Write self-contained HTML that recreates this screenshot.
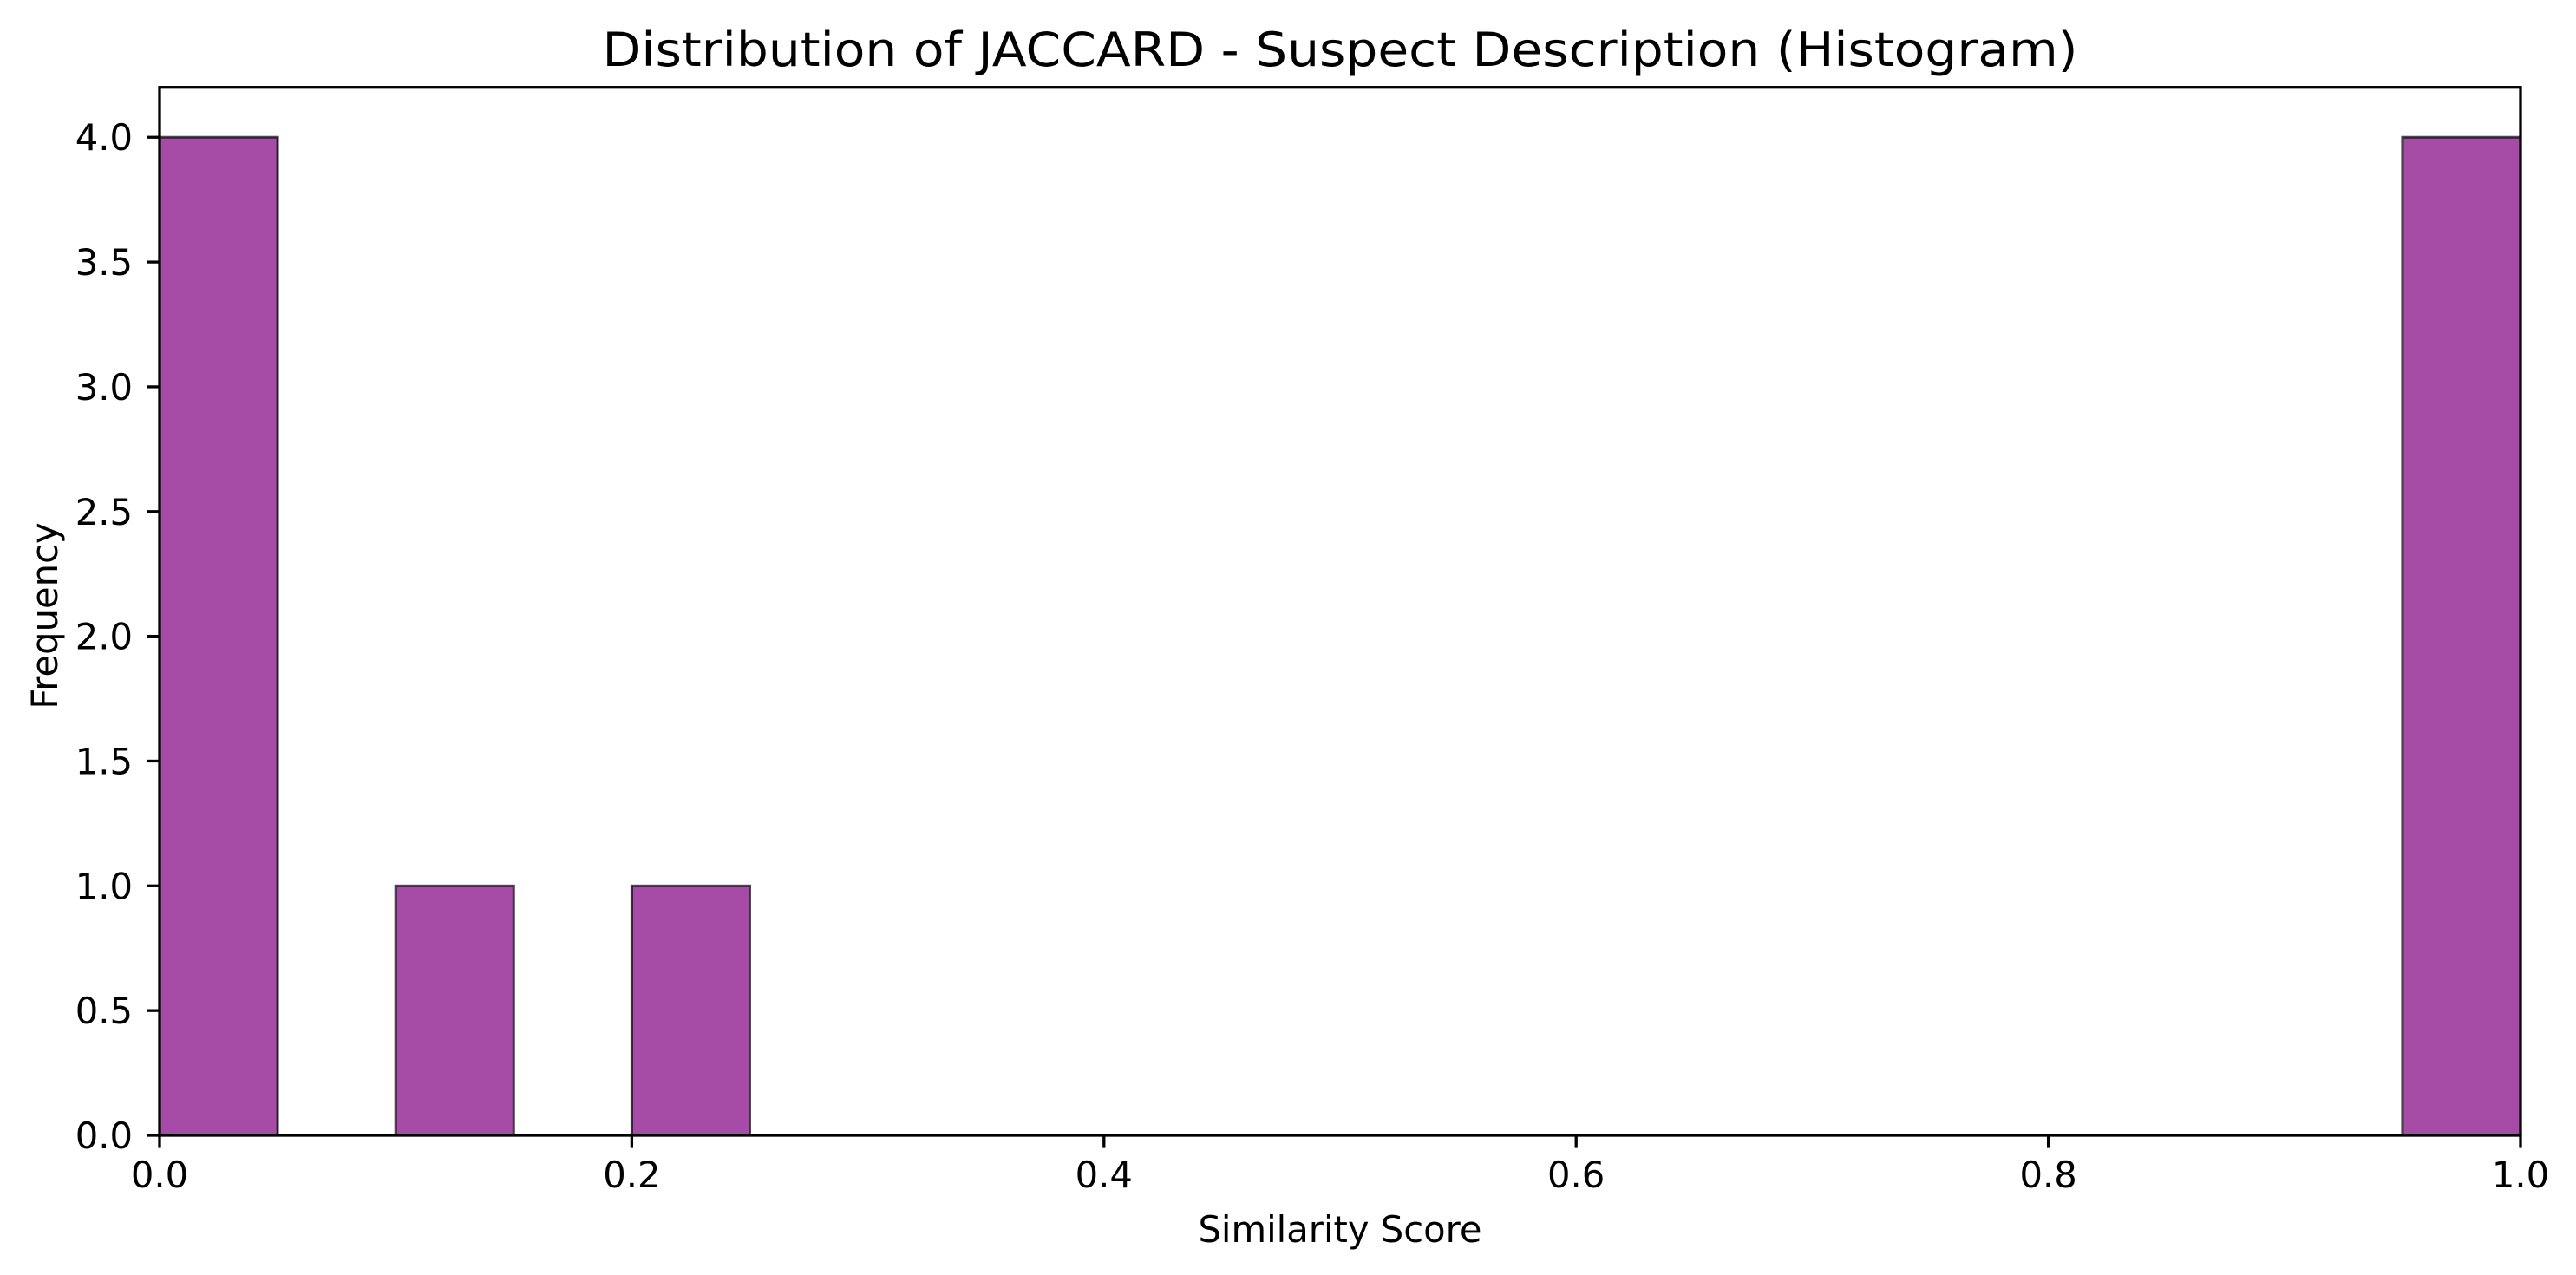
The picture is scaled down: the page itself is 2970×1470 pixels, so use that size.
<!DOCTYPE html>
<html><head><meta charset="utf-8">
<style>html,body{margin:0;padding:0;background:#fff}svg{display:block}text{font-family:"DejaVu Sans","Liberation Sans",sans-serif;fill:#000}</style>
</head><body>
<svg id="chart" width="2970" height="1470" viewBox="0 0 2970 1470" xmlns="http://www.w3.org/2000/svg">
<rect width="2970" height="1470" fill="#fff"/>
<text x="1545" y="76" font-size="54" text-anchor="middle" textLength="1701" lengthAdjust="spacingAndGlyphs">Distribution of JACCARD - Suspect Description (Histogram)</text>
<g id="bars"></g>
<g id="axes"></g>
<text x="1545" y="1432" font-size="41.7" text-anchor="middle">Similarity Score</text>
<text transform="translate(66,710) rotate(-90)" font-size="41.7" text-anchor="middle">Frequency</text>
</svg>
<script>
const binEdges = [0,0.05,0.1,0.15,0.2,0.25,0.3,0.35,0.4,0.45,0.5,0.55,0.6,0.65,0.7,0.75,0.8,0.85,0.9,0.95,1.0];
const counts = [4,0,1,0,1,0,0,0,0,0,0,0,0,0,0,0,0,0,0,4];
const xTicks = [0.0,0.2,0.4,0.6,0.8,1.0];
const xTickLabels = ["0.0","0.2","0.4","0.6","0.8","1.0"];
const yTicks = [0,0.5,1,1.5,2,2.5,3,3.5,4];
const yTickLabels = ["0.0","0.5","1.0","1.5","2.0","2.5","3.0","3.5","4.0"];
const NS="http://www.w3.org/2000/svg";
const L=184,R=2906,T=100.7,B=1309;
const xMin=0,xMax=1,yMin=0,yMax=4.2;
const sx=v=>L+(v-xMin)/(xMax-xMin)*(R-L);
const sy=v=>B-(v-yMin)/(yMax-yMin)*(B-T);
function mk(tag,attrs){const e=document.createElementNS(NS,tag);for(const k in attrs)e.setAttribute(k,attrs[k]);return e;}
const bars=document.getElementById('bars');
counts.forEach((c,i)=>{
  if(c<=0)return;
  const x0=sx(binEdges[i]),x1=sx(binEdges[i+1]),y=sy(c);
  const r=mk('rect',{x:x0,y:y,width:x1-x0,height:sy(0)-y,fill:'#a64ca6',stroke:'rgba(0,0,0,0.7)','stroke-width':3});
  
  
  bars.appendChild(r);
});
const ax=document.getElementById('axes');
const frame=mk('rect',{x:L,y:T,width:R-L,height:B-T,fill:'none',stroke:'#000','stroke-width':3.3});


ax.appendChild(frame);
xTicks.forEach((v,i)=>{
  const x=sx(v);
  const t=mk('line',{x1:x,x2:x,y1:B,y2:B+14.6,stroke:'#000','stroke-width':3.3});
  
  
  ax.appendChild(t);
  const lb=mk('text',{x:x,y:B+60,'font-size':41.7,'text-anchor':'middle'});
  lb.textContent=xTickLabels[i];
  
  
  ax.appendChild(lb);
});
yTicks.forEach((v,i)=>{
  const y=sy(v);
  const t=mk('line',{x1:L-14.6,x2:L,y1:y,y2:y,stroke:'#000','stroke-width':3.3});
  
  
  ax.appendChild(t);
  const lb=mk('text',{x:L-31,y:y+15,'font-size':41.7,'text-anchor':'end'});
  lb.textContent=yTickLabels[i];
  
  
  ax.appendChild(lb);
});
</script>
</body></html>
